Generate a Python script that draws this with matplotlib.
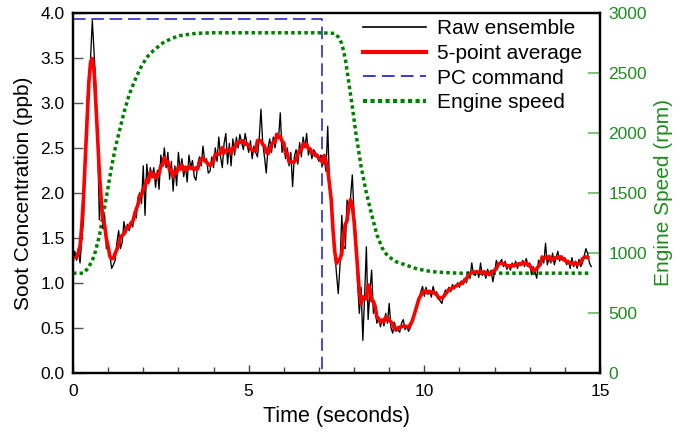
import numpy as np
import pandas as pd
import matplotlib
matplotlib.use("Agg")
import matplotlib.pyplot as plt
from matplotlib.lines import Line2D
from matplotlib.ticker import MultipleLocator

plt.rcParams['font.family'] = ['Liberation Sans', 'DejaVu Sans']

# soot signal, one sample every 0.05 s, one row per second
dt = 0.05
soot_raw = [
    1.20, 1.35, 1.25, 1.38, 1.22, 1.48, 1.70, 2.40, 3.00, 3.30, 3.50, 3.92, 3.55, 3.20, 2.60, 1.70, 2.05, 1.60, 1.75, 1.38,
    1.42, 1.30, 1.16, 1.20, 1.25, 1.45, 1.58, 1.38, 1.45, 1.68, 1.55, 1.65, 1.58, 1.68, 1.62, 1.80, 1.72, 1.95, 2.00, 1.88,
    2.30, 1.75, 2.32, 2.10, 2.28, 2.18, 2.28, 2.06, 2.25, 2.04, 2.42, 2.30, 2.50, 2.28, 2.45, 2.15, 2.35, 2.02, 2.30, 2.08,
    2.45, 2.25, 2.38, 2.18, 2.30, 2.12, 2.42, 2.28, 2.36, 2.18, 2.14, 2.32, 2.40, 2.30, 2.52, 2.35, 2.38, 2.22, 2.24, 2.40,
    2.28, 2.50, 2.35, 2.62, 2.40, 2.28, 2.55, 2.66, 2.32, 2.55, 2.30, 2.60, 2.42, 2.62, 2.50, 2.65, 2.56, 2.48, 2.66, 2.55,
    2.45, 2.58, 2.38, 2.52, 2.45, 2.40, 2.60, 2.93, 2.55, 2.40, 2.22, 2.50, 2.60, 2.45, 2.62, 2.50, 2.65, 2.60, 2.89, 2.45,
    2.55, 2.38, 2.50, 2.30, 2.45, 2.07, 2.40, 2.48, 2.32, 2.56, 2.40, 2.62, 2.50, 2.66, 2.42, 2.50, 2.38, 2.48, 2.45, 2.40,
    2.35, 2.42, 2.30, 2.38, 2.24, 2.74, 2.10, 1.85, 1.55, 1.35, 1.10, 0.88, 1.20, 1.75, 1.40, 1.38, 1.92, 1.80, 1.95, 2.20,
    1.75, 1.55, 1.00, 0.66, 0.95, 0.36, 0.85, 1.40, 0.59, 0.90, 1.14, 0.66, 0.72, 0.55, 0.62, 0.51, 0.60, 0.52, 0.66, 0.55,
    0.77, 0.50, 0.44, 0.56, 0.46, 0.48, 0.45, 0.55, 0.59, 0.48, 0.52, 0.46, 0.50, 0.57, 0.63, 0.69, 0.76, 0.82, 0.90, 0.96,
    0.85, 0.95, 0.88, 0.90, 0.84, 0.96, 0.88, 0.90, 0.82, 0.80, 0.77, 0.86, 0.92, 0.88, 0.95, 0.90, 0.98, 0.93, 0.96, 1.00,
    0.95, 1.02, 0.98, 1.05, 1.00, 1.12, 1.05, 1.22, 1.10, 1.08, 1.14, 1.06, 1.22, 1.08, 1.12, 1.05, 1.15, 1.10, 1.14, 1.01,
    1.12, 1.25, 1.18, 1.22, 1.26, 1.18, 1.24, 1.15, 1.20, 1.14, 1.22, 1.18, 1.24, 1.16, 1.22, 1.20, 1.25, 1.18, 1.27, 1.20,
    1.22, 1.09, 1.18, 1.12, 1.05, 1.25, 1.20, 1.30, 1.22, 1.44, 1.20, 1.28, 1.22, 1.33, 1.20, 1.28, 1.35, 1.24, 1.30, 1.26,
    1.28, 1.20, 1.25, 1.16, 1.28, 1.18, 1.24, 1.16, 1.26, 1.18, 1.22, 1.30, 1.38, 1.32, 1.22, 1.18,
]

# PC command step (drawn on the soot axis)
pc_time = [0.0, 7.1, 7.1]
pc_level = [3.93, 3.93, 0.0]

# engine speed trace
engine_time = [0.0, 0.3, 0.45, 0.6, 0.75, 0.9, 1.0, 1.1, 1.2, 1.3, 1.45, 1.6, 1.75, 1.9, 2.1, 2.3, 2.6,
               3.0, 3.5, 4.0, 5.0, 6.0, 7.0, 7.45, 7.55, 7.65, 7.75, 7.85, 7.95, 8.05, 8.2, 8.35, 8.5,
               8.65, 8.8, 8.95, 9.2, 9.5, 9.8, 10.2, 10.6, 11.0, 12.0, 13.0, 14.0, 14.75]
engine_rpm = [830, 830, 880, 970, 1140, 1380, 1550, 1720, 1870, 1990, 2170, 2320, 2430, 2530, 2630, 2690, 2760,
              2810, 2830, 2835, 2835, 2835, 2835, 2830, 2800, 2745, 2620, 2420, 2220, 2000, 1720, 1500, 1320,
              1150, 1040, 975, 925, 895, 865, 843, 835, 830, 830, 830, 830, 830]

t = np.arange(len(soot_raw)) * dt
soot_avg = pd.Series(soot_raw).rolling(5, center=True).mean()

fig = plt.figure(figsize=(6.79, 4.32), dpi=100)
ax = fig.add_axes([73 / 679, 1 - 372.7 / 432, 527 / 679, 359.7 / 432])
ax2 = ax.twinx()

green = '#008000'
blue = '#2b2bc8'
ax2.plot(engine_time, engine_rpm, color=green, lw=2.5, linestyle=(0, (1, 0.9)))

ax.plot(pc_time, pc_level, color=blue, lw=1.2, linestyle=(0, (7.5, 3.5)))
ax.plot(t, soot_raw, color='black', lw=0.95)
ax.plot(t, soot_avg, color='red', lw=2.6)

ax.set_zorder(ax2.get_zorder() + 1)
ax.patch.set_visible(False)

ax.set_xlim(0, 15)
ax.set_ylim(0, 4)
ax2.set_ylim(0, 3000)

ax.xaxis.set_major_locator(MultipleLocator(5))
ax.xaxis.set_minor_locator(MultipleLocator(1))
ax.yaxis.set_major_locator(MultipleLocator(0.5))
ax.yaxis.set_major_formatter(matplotlib.ticker.FormatStrFormatter('%.1f'))
ax2.yaxis.set_major_locator(MultipleLocator(500))

ax.tick_params(axis='x', which='major', direction='in', length=6, width=1, color='#444444',
               labelsize=12.5, pad=8, top=False)
ax.tick_params(axis='x', which='minor', direction='in', length=4, width=1, color='#444444', top=False)
ax.tick_params(axis='y', direction='in', length=7, width=1, color='#555555', labelsize=12.5, pad=6, right=False)
ax2.tick_params(axis='y', direction='in', length=8.5, width=1.2, color='#66b866',
                labelsize=12.5, labelcolor='#1e8c1e', pad=6)

for a in (ax, ax2):
    for s in a.spines.values():
        s.set_linewidth(1.6)
        s.set_color('black')

ax.set_xlabel('Time (seconds)', fontsize=15.5, labelpad=5)
ax.set_ylabel('Soot Concentration (ppb)', fontsize=15, labelpad=5)
ax2.set_ylabel('Engine Speed (rpm)', fontsize=15, color='#1e8c1e', labelpad=5)

handles = [
    Line2D([], [], color='black', lw=1.2),
    Line2D([], [], color='red', lw=3),
    Line2D([], [], color=blue, lw=1.3, linestyle=(0, (7, 3.5))),
    Line2D([], [], color=green, lw=3, linestyle=(0, (1, 0.8))),
]
labels = ['Raw ensemble', '5-point average', 'PC command', 'Engine speed']
ax.legend(handles, labels, loc='upper left', bbox_to_anchor=(363 / 679, 1 - 19 / 432),
          bbox_transform=fig.transFigure, frameon=False, fontsize=15,
          handlelength=3.0, handletextpad=0.55, labelspacing=0.28, borderpad=0, borderaxespad=0)

fig.savefig('out.png', dpi=100)
